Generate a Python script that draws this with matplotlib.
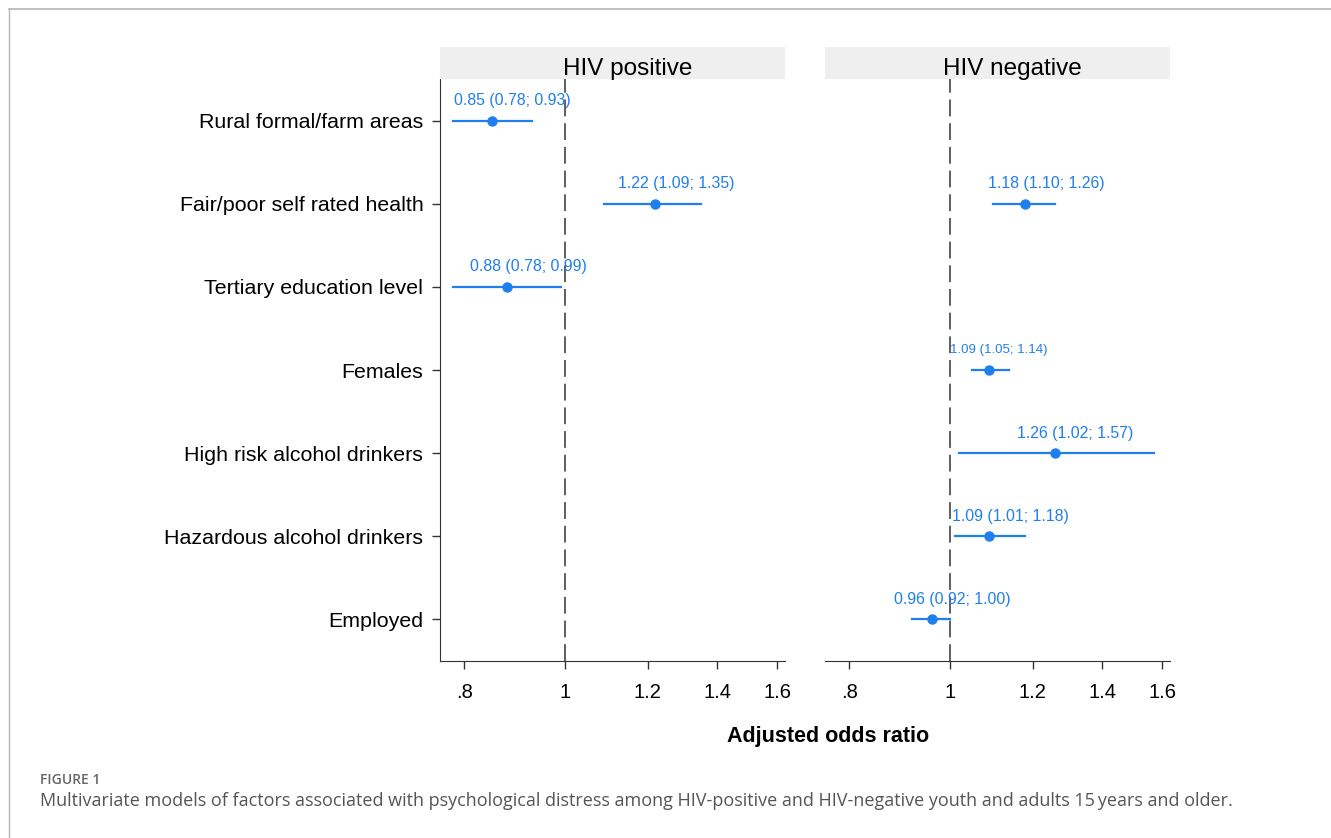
import matplotlib

matplotlib.use("Agg")
import matplotlib.pyplot as plt
from matplotlib.lines import Line2D
from matplotlib.patches import Rectangle
import numpy as np

# ---- data ---------------------------------------------------------------
factors = [
    "Rural formal/farm areas",
    "Fair/poor self rated health",
    "Tertiary education level",
    "Females",
    "High risk alcohol drinkers",
    "Hazardous alcohol drinkers",
    "Employed",
]
panels = ["HIV positive", "HIV negative"]

# adjusted odds ratios and 95% CI; None = factor not in that model
pos_or = [0.85, 1.22, 0.88, None, None, None, None]
pos_lo = [0.78, 1.09, 0.78, None, None, None, None]
pos_hi = [0.93, 1.35, 0.99, None, None, None, None]

neg_or = [None, 1.18, None, 1.09, 1.26, 1.09, 0.96]
neg_lo = [None, 1.10, None, 1.05, 1.02, 1.01, 0.92]
neg_hi = [None, 1.26, None, 1.14, 1.57, 1.18, 1.00]

xticks = [0.8, 1.0, 1.2, 1.4, 1.6]
xtick_labels = [".8", "1", "1.2", "1.4", "1.6"]

BLUE = "#1f7fef"
FONT = "Liberation Sans"

plt.rcParams["font.family"] = FONT

fig = plt.figure(figsize=(13.31, 8.38), dpi=100)

# thin page frame (top + left), as in the journal layout
fig.add_artist(Line2D([9 / 1331, 1.0], [1 - 9 / 838] * 2, color="#b5b5b5", lw=1.2))
fig.add_artist(Line2D([9 / 1331] * 2, [0.0, 1 - 9 / 838], color="#b5b5b5", lw=1.0))

ax_w, ax_b, ax_h = 345 / 1331, 1 - 661 / 838, (661 - 79) / 838
strip_h = 32 / 838
lefts = [440 / 1331, 825 / 1331]

series = [(pos_or, pos_lo, pos_hi), (neg_or, neg_lo, neg_hi)]
y = np.arange(1, len(factors) + 1)

for i, (name, (est, lo, hi)) in enumerate(zip(panels, series)):
    ax = fig.add_axes([lefts[i], ax_b, ax_w, ax_h])
    ax.set_xscale("log")
    ax.set_xlim(0.758, 1.627)
    ax.set_ylim(len(factors) + 0.5, 0.5)
    ax.axvline(1, color="#333333", lw=1.1, dashes=(11, 4.5), zorder=1)

    for yy, e, l, h, f in zip(y, est, lo, hi, factors):
        if e is None:
            continue
        ax.plot([l, h], [yy, yy], color=BLUE, lw=1.6, zorder=2)
        ax.plot(e, yy, "o", color=BLUE, ms=6.5, zorder=3)
        small = f == "Females"
        ax.annotate(f"{e:.2f} ({l:.2f}; {h:.2f})", (e, yy),
                    xytext=(10 if small else 21, 20), textcoords="offset pixels",
                    ha="center", va="center", color=BLUE,
                    fontsize=9.5 if small else 11.4)

    ax.set_xticks(xticks)
    ax.set_xticklabels(xtick_labels, fontsize=14.5)
    ax.xaxis.set_minor_locator(matplotlib.ticker.NullLocator())
    ax.tick_params(axis="x", length=6, width=1, color="#333333", pad=10)
    ax.spines[["top", "right"]].set_visible(False)
    ax.spines["bottom"].set_color("#333333")
    if i == 0:
        ax.set_yticks(y)
        ax.set_yticklabels(factors, fontsize=15.4)
        ax.tick_params(axis="y", length=6, width=1, color="#333333", pad=6)
        ax.spines["left"].set_color("#333333")
    else:
        ax.set_yticks([])
        ax.spines["left"].set_visible(False)

    # facet strip
    sax = fig.add_axes([lefts[i], ax_b + ax_h, ax_w, strip_h])
    sax.add_patch(Rectangle((0, 0), 1, 1, color="#efefef", transform=sax.transAxes))
    sax.text(0.5 + 15 / 345, 0.32, name, ha="center", va="center", fontsize=17.5)
    sax.set_axis_off()

fig.text(828 / 1331, 1 - 736 / 838, "Adjusted odds ratio", ha="center", va="center",
         fontsize=15.5, fontweight="bold")

fig.text(40 / 1331, 1 - 780 / 838, "FIGURE 1", ha="left", va="center",
         fontsize=10, color="#666666", family="Open Sans", fontweight="semibold")
fig.text(40 / 1331, 1 - 801 / 838,
         "Multivariate models of factors associated with psychological distress among "
         "HIV-positive and HIV-negative youth and adults 15\u2009years and older.",
         ha="left", va="center", fontsize=13, color="#555555",
         family=["Open Sans", "DejaVu Sans"])

fig.savefig("out.png", dpi=100)
